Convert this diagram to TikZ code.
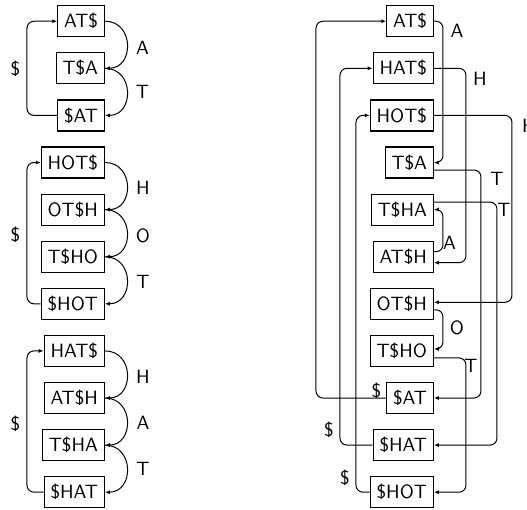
\documentclass[tikz,border=0pt]{standalone}
\usepackage{fontspec}
\usetikzlibrary{arrows.meta,calc}
\begin{document}
\begin{tikzpicture}[x=0.5pt,y=-0.5pt,
  box/.style={draw,line width=0.6pt,anchor=east,minimum height=15.5pt,inner xsep=3.2pt,inner ysep=0pt,font=\sffamily\fontsize{9.6}{11}\selectfont},
  lab/.style={inner sep=0pt,font=\sffamily\fontsize{9.6}{11}\selectfont},
  arr/.style={line width=0.5pt,-{Latex[length=2.4pt,width=2pt]}},
  rc/.style={rounded corners=3.5pt}]
\useasboundingbox (0,0) rectangle (527,510);
% ---------- left column ----------
\node[box] (L0) at (105,21.2) {AT\$};
\node[box] (L1) at (105,68.3) {T\$A};
\node[box] (L2) at (105,115.4) {\$AT};
\node[box] (L3) at (105,162.5) {HOT\$};
\node[box] (L4) at (105,209.6) {OT\$H};
\node[box] (L5) at (105,256.7) {T\$HO};
\node[box] (L6) at (105,303.8) {\$HOT};
\node[box] (L7) at (105,350.9) {HAT\$};
\node[box] (L8) at (105,398.0) {AT\$H};
\node[box] (L9) at (105,445.1) {T\$HA};
\node[box] (L10) at (105,492.2) {\$HAT};
\coordinate (lx) at (27,0);
\draw[arr] (L0.east) to[out=0,in=0,looseness=1.6] (L1.east);
\draw[arr] (L1.east) to[out=0,in=0,looseness=1.6] (L2.east);
\draw[arr] (L3.east) to[out=0,in=0,looseness=1.6] (L4.east);
\draw[arr] (L4.east) to[out=0,in=0,looseness=1.6] (L5.east);
\draw[arr] (L5.east) to[out=0,in=0,looseness=1.6] (L6.east);
\draw[arr] (L7.east) to[out=0,in=0,looseness=1.6] (L8.east);
\draw[arr] (L8.east) to[out=0,in=0,looseness=1.6] (L9.east);
\draw[arr] (L9.east) to[out=0,in=0,looseness=1.6] (L10.east);
\draw[arr,rc] (L2.west) -- (lx |- L2.west) |- (L0.west);
\draw[arr,rc] (L6.west) -- (lx |- L6.west) |- (L3.west);
\draw[arr,rc] (L10.west) -- (lx |- L10.west) |- (L7.west);
\node[lab] (la1) at (142.5,48) {A};
\node[lab] (la2) at (142.5,91.7) {T};
\node[lab] (la3) at (15.5,68.5) {\$};
\node[lab] (la4) at (143,188) {H};
\node[lab] (la5) at (143,235.5) {O};
\node[lab] (la6) at (143,281.5) {T};
\node[lab] (la7) at (15.5,235) {\$};
\node[lab] (la8) at (143,376.5) {H};
\node[lab] (la9) at (143,423) {A};
\node[lab] (la10) at (143,468.5) {T};
\node[lab] (la11) at (15.5,423.5) {\$};
% ---------- right diagram ----------
\node[box] (R0) at (434,21.2) {AT\$};
\node[box] (R1) at (434,68.3) {HAT\$};
\node[box] (R2) at (434,115.4) {HOT\$};
\node[box] (R3) at (434,162.5) {T\$A};
\node[box] (R4) at (434,209.6) {T\$HA};
\node[box] (R5) at (434,256.7) {AT\$H};
\node[box] (R6) at (434,303.8) {OT\$H};
\node[box] (R7) at (434,350.9) {T\$HO};
\node[box] (R8) at (434,398.0) {\$AT};
\node[box] (R9) at (434,445.1) {\$HAT};
\node[box] (R10) at (434,492.2) {\$HOT};
\coordinate (rx1) at (316,0);
\coordinate (rx2) at (340,0);
\coordinate (rx3) at (356,0);
\draw[arr,rc] (R0.east) -| ($(R3.east)+(9,0)$) -- (R3.east);
\draw[arr,rc] (R1.east) -| ($(R5.east)+(32,6)$) -- ($(R5.east)+(0,6)$);
\draw[arr,rc] (R2.east) -| ($(R6.east)+(78,-1.5)$) -- ($(R6.east)+(0,-1.5)$);
\draw[arr,rc] ($(R3.east)+(0,7.5)$) -| ($(R8.east)+(47,0)$) -- (R8.east);
\draw[arr,rc] ($(R4.east)+(0,-7.5)$) -| ($(R9.east)+(63,0)$) -- (R9.east);
\draw[arr,rc] ($(R5.east)+(0,-5)$) -| ($(R4.east)+(9,0)$) -- (R4.east);
\draw[arr,rc] ($(R6.east)+(0,6)$) -| ($(R7.east)+(9,-2)$) -- ($(R7.east)+(0,-2)$);
\draw[arr,rc] ($(R7.east)+(0,7)$) -| ($(R10.east)+(32,0)$) -- (R10.east);
\draw[arr,rc] (R8.west) -- (rx1 |- R8.west) |- (R0.west);
\draw[arr,rc] (R9.west) -- (rx2 |- R9.west) |- (R1.west);
\draw[arr,rc] (R10.west) -- (rx3 |- R10.west) |- (R2.west);
\node[lab] (ra1) at (457,30.5) {A};
\node[lab] (ra2) at (480,79) {H};
\node[lab] (ra3) at (529,126) {H};
\node[lab] (ra4) at (497,178.5) {T};
\node[lab] (ra5) at (504,209.5) {T};
\node[lab] (ra6) at (449.5,242.5) {A};
\node[lab] (ra7) at (457,328) {O};
\node[lab] (ra8) at (471,366) {T};
\node[lab] (ra9) at (376.5,390.5) {\$};
\node[lab] (ra10) at (329,430) {\$};
\node[lab] (ra11) at (345,477.5) {\$};
\end{tikzpicture}
\end{document}
